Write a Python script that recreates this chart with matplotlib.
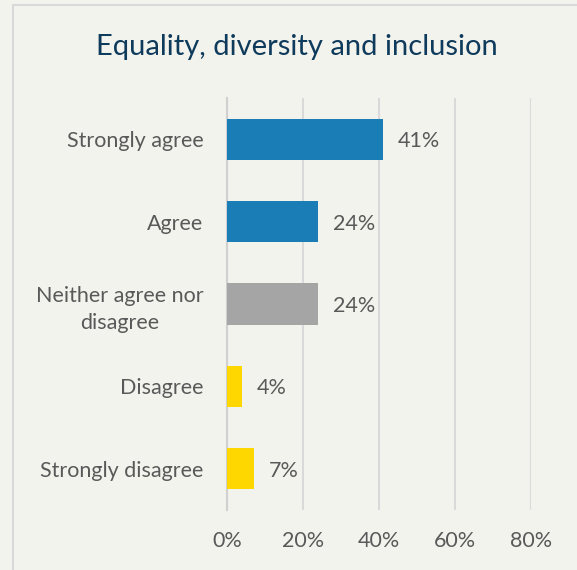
import matplotlib.pyplot as plt
from matplotlib.patches import Rectangle
import numpy as np

categories = ["Strongly agree", "Agree", "Neither agree nor\ndisagree", "Disagree", "Strongly disagree"]
values = [41, 24, 24, 4, 7]
colors = ["#1a7db5", "#1a7db5", "#a5a5a5", "#ffd700", "#ffd700"]
xticks = [0, 20, 40, 60, 80]

plt.rcParams['font.family'] = ['Lato', 'DejaVu Sans']
text_color = "#595959"
bg = "#f3f3ee"
fs = 15.5

fig = plt.figure(figsize=(5.77, 5.70), dpi=100)
fig.patch.set_facecolor(bg)

# frame around the chart area (left and top edges visible)
fig.add_artist(Rectangle((13 / 577, -0.1), 1.2, 1 - 5 / 570 + 0.1,
                         transform=fig.transFigure, fill=False,
                         edgecolor="#d9d9d9", linewidth=1.5))

ax = fig.add_axes([227 / 577, 1 - 510 / 570, (531 - 227) / 577, (510 - 98) / 570])
ax.set_facecolor(bg)

index = np.arange(len(categories))
ax.barh(index, values, height=0.5, color=colors, zorder=3)
for i, v in enumerate(values):
    ax.text(v + 3.9, i, "{}%".format(v), va="center_baseline", ha="left",
            fontsize=fs, color=text_color)

ax.set_xlim(0, 80)
ax.set_ylim(4.5, -0.5)
ax.set_xticks(xticks)
ax.set_xticklabels(["{}%".format(t) for t in xticks])
ax.set_yticks(index)
ax.set_yticklabels(categories, multialignment="center", linespacing=1.45)
ax.tick_params(axis='both', length=0, labelsize=fs, labelcolor=text_color)
ax.tick_params(axis='y', pad=17)
ax.tick_params(axis='x', pad=15)
ax.grid(True, axis='x', color="#d9d9d9", linewidth=1.5, zorder=0)
for side in ["top", "right", "bottom"]:
    ax.spines[side].set_visible(False)
ax.spines["left"].set_color("#d0d0d0")
ax.spines["left"].set_linewidth(1.5)

fig.text(0.5 + 8 / 577, 1 - 47 / 570, "Equality, diversity and inclusion",
         ha="center", va="center", fontsize=21, color="#0e3a5b")

plt.savefig("out.png", facecolor=bg)
